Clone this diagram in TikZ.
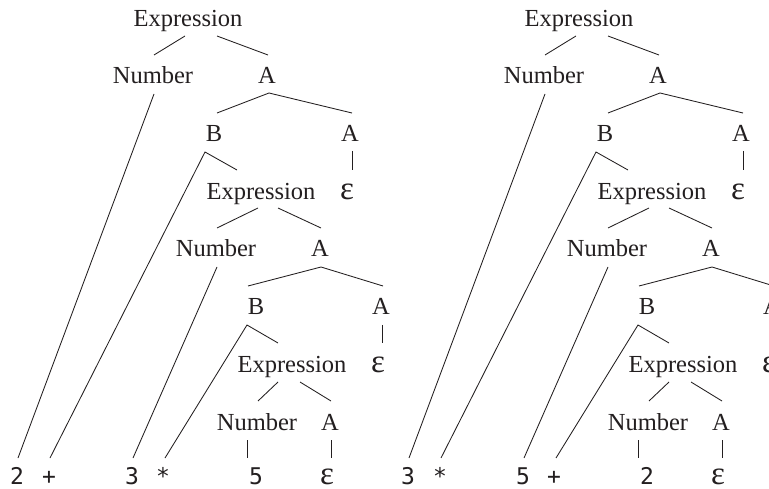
\documentclass[tikz,border=0pt]{standalone}
\usepackage{fontspec}
\setmainfont{Liberation Serif}
\newfontfamily\monofnt{DejaVu Sans Mono}
\definecolor{ink}{HTML}{231F20}
\tikzset{
  lbl/.style={anchor=base, inner sep=0pt, font=\fontsize{24.5}{28}\selectfont, text=ink},
  epsl/.style={anchor=base, inner sep=0pt, font=\fontsize{33}{36}\selectfont, text=ink, text depth=0pt},
  term/.style={anchor=base, inner sep=0pt, font=\monofnt\fontsize{23}{26}\selectfont, text=ink, text depth=0pt},
  edge/.style={draw=ink, line width=0.85pt},
}
% #1 prefix, #2 x offset, #3..#7 terminal symbols
\newcommand\mytree[7]{%
  \node[lbl] (#1e0) at ({#2+188},27) {Expression};
  \node[lbl] (#1n1) at ({#2+153},84) {Number};
  \node[lbl] (#1a1) at ({#2+267},84) {A};
  \node[lbl] (#1b1) at ({#2+214},142) {B};
  \node[lbl] (#1a2) at ({#2+350},142) {A};
  \node[epsl] (#1p2) at ({#2+347},200) {ε};
  \node[lbl] (#1e2) at ({#2+261},200) {Expression};
  \node[lbl] (#1n3) at ({#2+216},257) {Number};
  \node[lbl] (#1a3) at ({#2+320},257) {A};
  \node[lbl] (#1b3) at ({#2+256},315) {B};
  \node[lbl] (#1a4) at ({#2+381},315) {A};
  \node[epsl] (#1p4) at ({#2+378},372) {ε};
  \node[lbl] (#1e4) at ({#2+292},372) {Expression};
  \node[lbl] (#1n5) at ({#2+257},430) {Number};
  \node[lbl] (#1a5) at ({#2+330},430) {A};
  \node[term] (#1t1) at ({#2+17},484) {#3};
  \node[term] (#1t2) at ({#2+49},484) {#4};
  \node[term] (#1t3) at ({#2+132},484) {#5};
  \node[term] (#1t4) at ({#2+163},484) {#6};
  \node[term] (#1t5) at ({#2+256},484) {#7};
  \node[epsl] (#1t6) at ({#2+327},484) {ε};
  \draw[edge] ([shift={(-3,9)}]#1e0.base) -- ([shift={(1,-29)}]#1n1.base);
  \draw[edge] ([shift={(29,9)}]#1e0.base) -- ([shift={(1,-29)}]#1a1.base);
  \draw[edge] ([shift={(1,10)}]#1n1.base) -- ([shift={(1,-26)}]#1t1.base);
  \draw[edge] ([shift={(3,-29)}]#1b1.base) -- ([shift={(2,9)}]#1a1.base) -- ([shift={(2,-29)}]#1a2.base);
  \draw[edge] ([shift={(2,9)}]#1a2.base) -- ([shift={(5,-30)}]#1p2.base);
  \draw[edge] ([shift={(-24,-30)}]#1e2.base) -- ([shift={(-9,10)}]#1b1.base) -- ([shift={(1,-26)}]#1t2.base);
  \draw[edge] ([shift={(-3,8)}]#1e2.base) -- ([shift={(1,-29)}]#1n3.base);
  \draw[edge] ([shift={(17,8)}]#1e2.base) -- ([shift={(1,-29)}]#1a3.base);
  \draw[edge] ([shift={(1,10)}]#1n3.base) -- ([shift={(1,-26)}]#1t3.base);
  \draw[edge] ([shift={(-8,-29)}]#1b3.base) -- ([shift={(1,10)}]#1a3.base) -- ([shift={(2,-29)}]#1a4.base);
  \draw[edge] ([shift={(1,10)}]#1a4.base) -- ([shift={(4,-29)}]#1p4.base);
  \draw[edge] ([shift={(-14,-29)}]#1e4.base) -- ([shift={(-9,10)}]#1b3.base) -- ([shift={(2,-26)}]#1t4.base);
  \draw[edge] ([shift={(-14,10)}]#1e4.base) -- ([shift={(1,-29)}]#1n5.base);
  \draw[edge] ([shift={(8,10)}]#1e4.base) -- ([shift={(1,-29)}]#1a5.base);
  \draw[edge] ([shift={(-10,10)}]#1n5.base) -- ([shift={(-9,-26)}]#1t5.base);
  \draw[edge] ([shift={(1,10)}]#1a5.base) -- ([shift={(4,-26)}]#1t6.base);
}
\begin{document}
\begin{tikzpicture}[x=1pt,y=-1pt]
  \useasboundingbox (0,0) rectangle (769,489);
  \clip (0,0) rectangle (769,489);
  \fill[white] (0,0) rectangle (769,489);
  \mytree{L}{0}{2}{+}{3}{*}{5}
  \mytree{R}{391}{3}{*}{5}{+}{2}
\end{tikzpicture}
\end{document}
